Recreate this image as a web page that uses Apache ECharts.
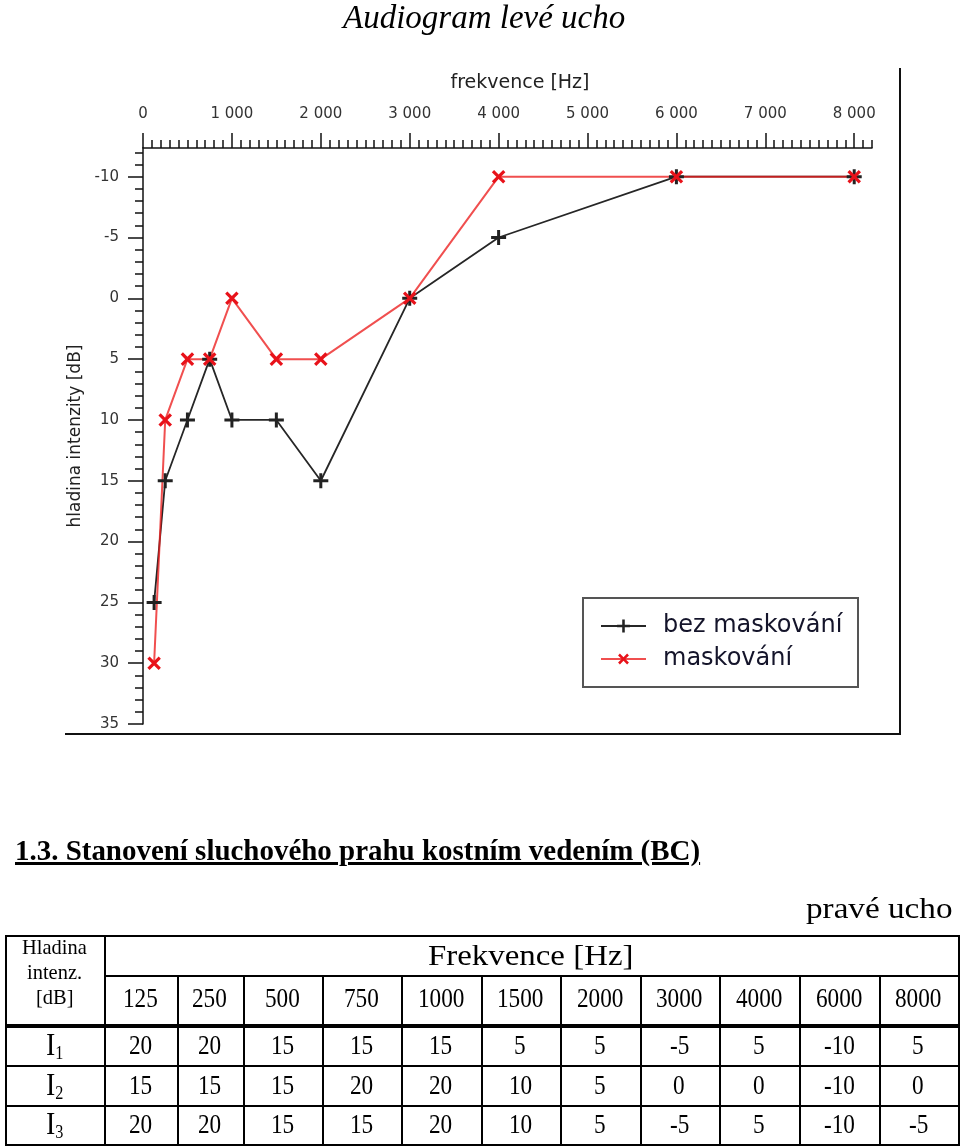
<!DOCTYPE html>
<html>
<head>
<meta charset="utf-8">
<script src="https://cdn.jsdelivr.net/npm/echarts@6/dist/echarts.min.js"></script>
<style>
  html, body { margin:0; padding:0; background:#fff; }
  #chart { position:absolute; left:0; top:0; width:960px; height:1146px; }
  #doc { position:absolute; left:0; top:0; width:960px; height:1146px; pointer-events:none; }
  .t { position:absolute; white-space:nowrap; line-height:1; font-family:"Liberation Serif","Times New Roman",serif; color:#000; transform-origin:0 50%; }
  .ln { position:absolute; background:#000; }
</style>
</head>
<body>
<div id="chart"></div>
<div id="doc"></div>
<script>
// ---------- chart data ----------
const frequencies   = [125, 250, 500, 750, 1000, 1500, 2000, 3000, 4000, 6000, 8000];
const bezMaskovani  = [25, 15, 10, 5, 10, 10, 15, 0, -5, -10, -10];
const maskovani     = [30, 10, 5, 5, 0, 5, 5, 0, -10, -10, -10];
const seriesNames   = ['bez maskování', 'maskování'];
const xTickValues   = [0, 1000, 2000, 3000, 4000, 5000, 6000, 7000, 8000];
const yTickValues   = [-10, -5, 0, 5, 10, 15, 20, 25, 30, 35];
const chartTitle    = 'Audiogram levé ucho';
const xAxisName     = 'frekvence [Hz]';
const yAxisName     = 'hladina intenzity [dB]';

// ---------- table data ----------
const headingText   = '1.3. Stanovení sluchového prahu kostním vedením (BC)';
const earText       = 'pravé ucho';
const tableHeader   = 'Frekvence [Hz]';
const rowHeadLines  = ['Hladina', 'intenz.', '[dB]'];
const tableFreqs    = ['125', '250', '500', '750', '1000', '1500', '2000', '3000', '4000', '6000', '8000'];
const rowLabels     = ['1', '2', '3'];
const rowI1         = [20, 20, 15, 15, 15, 5, 5, -5, 5, -10, 5];
const rowI2         = [15, 15, 15, 20, 20, 10, 5, 0, 0, -10, 0];
const rowI3         = [20, 20, 15, 15, 20, 10, 5, -5, 5, -10, -5];
const tableRows     = [rowI1, rowI2, rowI3];

// minor tick positions (axis decoration)
const xMinorTicks = []; for (let v = 0; v <= 8200; v += 100) xMinorTicks.push(v);
const yMinorTicks = []; for (let v = -12; v <= 35; v += 1) yMinorTicks.push(v);

const plusPath = 'path://M40,0H60V40H100V60H60V100H40V60H0V40H40Z';
const axisColor = '#111';
const labelFont = 'DejaVu Sans';

const chart = echarts.init(document.getElementById('chart'), null, { renderer: 'canvas' });
chart.setOption({
  animation: false,
  backgroundColor: '#fff',
  title: {
    text: chartTitle, left: 343, top: 3, padding: 0,
    textStyle: { fontFamily: 'Liberation Serif', fontStyle: 'italic', fontWeight: 'normal', fontSize: 33, color: '#000' }
  },
  grid: { left: 143, top: 148, width: 729, height: 576 },
  legend: {
    data: seriesNames, orient: 'vertical', left: 600, top: 614, padding: 0,
    itemWidth: 45, itemHeight: 16, itemGap: 9,
    textStyle: { fontFamily: labelFont, fontSize: 24, color: '#14142a', padding: [0, 0, 0, 12] }
  },
  xAxis: [
    {
      type: 'value', position: 'top', min: 0, max: 8200,
      name: xAxisName, nameLocation: 'middle', nameGap: 55,
      nameTextStyle: { fontFamily: labelFont, fontSize: 19, color: '#222', padding: [0, 0, 0, 25] },
      axisLine: { show: true, onZero: false, lineStyle: { color: axisColor, width: 1.5 } },
      axisTick: { show: true, customValues: xTickValues, length: 15, lineStyle: { color: axisColor, width: 1.5 } },
      axisLabel: {
        customValues: xTickValues, margin: 26, fontFamily: labelFont, fontSize: 15, color: '#333',
        formatter: v => v === 0 ? '0' : (v / 1000) + ' 000'
      },
      splitLine: { show: false }
    },
    {
      type: 'value', position: 'top', min: 0, max: 8200,
      axisLine: { show: false, onZero: false },
      axisTick: { show: true, customValues: xMinorTicks, length: 8, lineStyle: { color: axisColor, width: 1.5 } },
      axisLabel: { show: false },
      splitLine: { show: false }
    }
  ],
  yAxis: [
    {
      type: 'value', position: 'left', inverse: true, min: -12.36, max: 35,
      name: yAxisName, nameLocation: 'middle', nameGap: 55,
      nameTextStyle: { fontFamily: labelFont, fontSize: 17, color: '#222' },
      axisLine: { show: true, onZero: false, lineStyle: { color: axisColor, width: 1.5 } },
      axisTick: { show: true, customValues: yTickValues, length: 15, lineStyle: { color: axisColor, width: 1.5 } },
      axisLabel: { customValues: yTickValues, margin: 24, fontFamily: labelFont, fontSize: 15, color: '#333' },
      splitLine: { show: false }
    },
    {
      type: 'value', position: 'left', inverse: true, min: -12.36, max: 35,
      axisLine: { show: false, onZero: false },
      axisTick: { show: true, customValues: yMinorTicks, length: 8, lineStyle: { color: axisColor, width: 1.5 } },
      axisLabel: { show: false },
      splitLine: { show: false }
    }
  ],
  series: [
    {
      type: 'line', name: seriesNames[0], xAxisIndex: 0, yAxisIndex: 0,
      data: frequencies.map((f, i) => [f, bezMaskovani[i]]),
      symbol: plusPath, symbolSize: 15,
      lineStyle: { color: '#262626', width: 1.8 },
      itemStyle: { color: '#222' }
    },
    {
      type: 'line', name: seriesNames[1], xAxisIndex: 0, yAxisIndex: 0,
      data: frequencies.map((f, i) => [f, maskovani[i]]),
      symbol: plusPath, symbolSize: 16, symbolRotate: 45,
      lineStyle: { color: 'rgba(236,30,30,0.78)', width: 2 },
      itemStyle: { color: '#e8121a' }
    }
  ],
  graphic: [
    { type: 'rect', shape: { x: 583, y: 598, width: 275, height: 89 }, style: { fill: 'none', stroke: '#555', lineWidth: 2 }, z: 1 },
    { type: 'line', shape: { x1: 900, y1: 68, x2: 900, y2: 735 }, style: { stroke: '#111', lineWidth: 2 } },
    { type: 'line', shape: { x1: 65, y1: 734, x2: 901, y2: 734 }, style: { stroke: '#111', lineWidth: 2 } }
  ]
});

// ---------- document part (heading + table) ----------
const doc = document.getElementById('doc');
function text(str, opts) {
  const el = document.createElement('div');
  el.className = 't';
  el.style.fontSize = opts.size + 'px';
  if (opts.bold) el.style.fontWeight = 'bold';
  if (opts.italic) el.style.fontStyle = 'italic';
  if (opts.underline) el.style.textDecoration = 'underline';
  if (opts.html) el.innerHTML = str; else el.textContent = str;
  doc.appendChild(el);
  const w = el.offsetWidth, h = el.offsetHeight;
  const s = opts.width ? opts.width / w : (opts.scale || 1);
  el.style.transform = 'scaleX(' + s + ')';
  let left;
  if (opts.align === 'left') left = opts.x;
  else if (opts.align === 'right') left = opts.x - w * s;
  else left = opts.x - w * s / 2;
  el.style.left = left + 'px';
  el.style.top = (opts.y - h / 2) + 'px';
  return el;
}
function line(x, y, w, h) {
  const el = document.createElement('div');
  el.className = 'ln';
  el.style.left = x + 'px'; el.style.top = y + 'px';
  el.style.width = w + 'px'; el.style.height = h + 'px';
  doc.appendChild(el);
}

text(headingText, { size: 30, bold: true, underline: true, x: 15, y: 850, align: 'left', width: 685 });
text(earText, { size: 30, x: 952, y: 908, align: 'right', width: 146 });

const colEdges = [5, 104, 177, 243, 322, 401, 481, 560, 640, 719, 799, 879, 958];
const rowEdges = [935, 975, 1025, 1065, 1105, 1144];
const lw = 1.6;
line(colEdges[0], rowEdges[0], colEdges[12] - colEdges[0], lw);
line(colEdges[1], rowEdges[1], colEdges[12] - colEdges[1], lw);
line(colEdges[0], rowEdges[2] - 1.5, colEdges[12] - colEdges[0], 4);
line(colEdges[0], rowEdges[3], colEdges[12] - colEdges[0], lw);
line(colEdges[0], rowEdges[4], colEdges[12] - colEdges[0], lw);
line(colEdges[0], rowEdges[5], colEdges[12] - colEdges[0] + lw, lw);
line(colEdges[0], rowEdges[0], lw, rowEdges[5] - rowEdges[0]);
line(colEdges[1], rowEdges[0], lw, rowEdges[5] - rowEdges[0]);
line(colEdges[12], rowEdges[0], lw, rowEdges[5] - rowEdges[0]);
for (let c = 2; c < 12; c++) line(colEdges[c], rowEdges[1], lw, rowEdges[5] - rowEdges[1]);

const firstColCx = (colEdges[0] + colEdges[1]) / 2;
rowHeadLines.forEach((s, i) => text(s, { size: 22, x: firstColCx, y: 947 + i * 25, scale: 0.93 }));
text(tableHeader, { size: 30, x: 530, y: 955, width: 205 });

const colCenter = c => (colEdges[c + 1] + colEdges[c + 2]) / 2;
tableFreqs.forEach((f, c) => text(f, { size: 27, x: colCenter(c), y: 998, scale: 0.86 }));
const rowCy = [1045, 1085, 1124];
tableRows.forEach((row, r) => {
  text('I<sub style="font-size:18px;vertical-align:-4px">' + rowLabels[r] + '</sub>', { html: true, size: 31, x: firstColCx, y: rowCy[r], scale: 0.9 });
  row.forEach((v, c) => text(String(v), { size: 27, x: colCenter(c), y: rowCy[r], scale: 0.86 }));
});
</script>
</body>
</html>
